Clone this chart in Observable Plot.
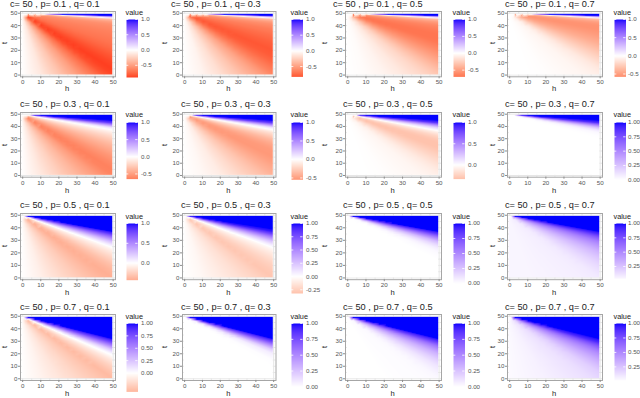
<!DOCTYPE html>
<html><head><meta charset="utf-8">
<script src="https://cdn.jsdelivr.net/npm/d3@7"></script>
<script src="https://cdn.jsdelivr.net/npm/@observablehq/plot@0.6"></script>
<style>
body{margin:0;background:#fff;}
#root{position:relative;width:640px;height:398px;overflow:hidden;background:#fff;font-family:"Liberation Sans",Arial,sans-serif;}
.abs{position:absolute;white-space:nowrap;line-height:1;}
svg{overflow:visible;}
</style></head><body><div id="root"></div>
<script>
// ---------- data ----------
const cValue = 50;
const pValues = [0.1, 0.3, 0.5, 0.7];
const qValues = [0.1, 0.3, 0.5, 0.7];
const xTicks = [0, 10, 20, 30, 40, 50];
const yTicks = [0, 10, 20, 30, 40, 50];
// anchors where value profiles were read: right edge (h = 50) at these t, then bottom edge (t = 0) at these h
const rightEdgeT = [49.5, 48, 47, 46, 45, 43, 41, 39, 37, 35, 32, 29, 26, 23, 20, 15, 10, 5, 0.5];
const bottomEdgeH = [45, 40, 30, 20, 10, -0.5];

const v_p1_q1 = [1, 1, 0.35, -0.1, -0.35, -0.5, -0.57, -0.6, -0.62, -0.64, -0.66, -0.68, -0.7, -0.73, -0.76, -0.82, -0.87, -0.9, -0.88, -0.83, -0.72, -0.5, -0.3, -0.12, 0];
const v_p1_q3 = [1, 1, 0.3, -0.1, -0.35, -0.5, -0.58, -0.62, -0.66, -0.68, -0.72, -0.75, -0.78, -0.8, -0.82, -0.8, -0.75, -0.68, -0.62, -0.54, -0.46, -0.31, -0.17, -0.06, 0];
const v_p1_q5 = [1, 1, 0.3, -0.1, -0.35, -0.5, -0.58, -0.63, -0.66, -0.68, -0.7, -0.7, -0.68, -0.64, -0.6, -0.52, -0.44, -0.36, -0.3, -0.25, -0.2, -0.12, -0.06, -0.02, 0];
const v_p1_q7 = [1, 1, 0.3, -0.1, -0.35, -0.48, -0.54, -0.56, -0.56, -0.54, -0.51, -0.47, -0.43, -0.38, -0.33, -0.25, -0.18, -0.12, -0.09, -0.07, -0.05, -0.03, -0.01, 0, 0];
const v_p3_q1 = [1, 1, 1, 1, 1, 0.85, 0.45, 0.12, -0.02, -0.1, -0.2, -0.28, -0.35, -0.41, -0.46, -0.54, -0.6, -0.64, -0.63, -0.58, -0.51, -0.38, -0.25, -0.12, 0];
const v_p3_q3 = [1, 1, 1, 1, 1, 0.85, 0.45, 0.12, -0.03, -0.15, -0.27, -0.37, -0.44, -0.49, -0.52, -0.53, -0.49, -0.44, -0.4, -0.35, -0.3, -0.2, -0.1, -0.04, 0];
const v_p3_q5 = [1, 1, 1, 1, 1, 0.88, 0.5, 0.2, 0.03, -0.1, -0.22, -0.29, -0.32, -0.32, -0.29, -0.23, -0.17, -0.12, -0.09, -0.07, -0.05, -0.03, -0.01, 0, 0];
const v_p3_q7 = [1, 1, 1, 1, 1, 0.9, 0.55, 0.27, 0.1, 0.03, 0.005, 0, 0, 0, 0, 0, 0, 0, 0, 0, 0, 0, 0, 0, 0];
const v_p5_q1 = [1, 1, 1, 1, 1, 1, 1, 1, 1, 0.85, 0.55, 0.28, 0.08, -0.05, -0.13, -0.24, -0.33, -0.39, -0.42, -0.4, -0.36, -0.27, -0.18, -0.08, 0];
const v_p5_q3 = [1, 1, 1, 1, 1, 1, 1, 1, 0.95, 0.8, 0.5, 0.25, 0.07, -0.04, -0.1, -0.18, -0.24, -0.28, -0.3, -0.27, -0.23, -0.16, -0.1, -0.04, 0];
const v_p5_q5 = [1, 1, 1, 1, 1, 1, 1, 1, 1, 0.85, 0.55, 0.3, 0.15, 0.06, 0.02, 0, 0, 0, 0, 0, 0, 0, 0, 0, 0];
const v_p5_q7 = [1, 1, 1, 1, 1, 1, 1, 1, 1, 0.9, 0.7, 0.55, 0.45, 0.37, 0.3, 0.22, 0.16, 0.12, 0.09, 0.08, 0.07, 0.06, 0.05, 0.04, 0.04];
const v_p7_q1 = [1, 1, 1, 1, 1, 1, 1, 1, 1, 1, 1, 0.78, 0.5, 0.22, 0.04, -0.12, -0.23, -0.31, -0.36, -0.33, -0.29, -0.21, -0.13, -0.06, 0];
const v_p7_q3 = [1, 1, 1, 1, 1, 1, 1, 1, 1, 1, 1, 0.75, 0.45, 0.2, 0.07, 0.01, 0, 0, 0, 0, 0, 0, 0, 0, 0];
const v_p7_q5 = [1, 1, 1, 1, 1, 1, 1, 1, 1, 1, 1, 0.82, 0.6, 0.45, 0.33, 0.2, 0.11, 0.06, 0.03, 0.02, 0.015, 0.01, 0, 0, 0];
const v_p7_q7 = [1, 1, 1, 1, 1, 1, 1, 1, 1, 1, 1, 0.9, 0.72, 0.58, 0.48, 0.36, 0.27, 0.2, 0.17, 0.14, 0.12, 0.09, 0.06, 0.04, 0.02];

// h where the top blue band begins (near the apex the field fades to white)
const bandStartH = [11, 12, 10, 11, 4, 4, 5, 3, 1.5, 1.5, 1.5, 1.5, 1, 1, 1, 1];
// legend (colour bar) limits and labels
const legendMin = [-0.9, -0.83, -0.7, -0.58, -0.65, -0.55, -0.33, 0, -0.43, -0.32, 0, 0.04, -0.38, 0, 0, 0.02];
const legendMax = [1, 1, 1, 1, 1, 1, 1, 1, 1, 1, 1, 1, 1, 1, 1, 1];
const labsA = ["1.0", "0.5", "0.0", "-0.5"];
const labsB = ["1.0", "0.5", "0.0"];
const labsC = ["1.00", "0.75", "0.50", "0.25", "0.00"];
const labsD = ["1.00", "0.75", "0.50", "0.25", "0.00", "-0.25"];
const labsE = ["1.00", "0.75", "0.50", "0.25"];
const legendLabels = [labsA, labsA, labsA, labsA, labsA, labsA, labsB, labsC, labsB, labsD, labsC, labsE, labsC, labsC, labsC, labsE];

const panelValues = [v_p1_q1, v_p1_q3, v_p1_q5, v_p1_q7, v_p3_q1, v_p3_q3, v_p3_q5, v_p3_q7,
  v_p5_q1, v_p5_q3, v_p5_q5, v_p5_q7, v_p7_q1, v_p7_q3, v_p7_q5, v_p7_q7];

// ---------- layout ----------
const PL = [19.5, 181.5, 344.5, 506.5], PR = [114.5, 275, 440.5, 601.5];
const PT = [10.5, 112.3, 213.3, 314], PB = [75.8, 177, 279.5, 380];
const titleX = [[10, 171, 333, 505], [20, 181, 343, 505], [20, 181, 343, 505], [20, 181, 343, 505]];
const titleY = [4.3, 105, 206, 307.5];
const tLabX = [5, 165, 325, 493];
const barLeft = [125.5, 290.5, 452.5, 613.5], barW = 11.5;
const labPad = [3, 3, 3, 2];
const barTop = [19.3, 121.7, 223.3, 323.3];
const barBottom = [77.3, 76.7, 76.7, 76.7, 178.3, 179, 178.3, 179, 280, 293.3, 283.3, 278.3, 391.7, 386.7, 386.7, 380];
const H0 = -0.5, H1 = 49.5, T0 = 0.5, T1 = 49.5;

const root = document.getElementById("root");
function addText(txt, x, y, size, color, extra = "") {
  const d = document.createElement("div");
  d.className = "abs";
  d.textContent = txt;
  d.style.cssText = `left:${x}px;top:${y}px;font-size:${size}px;color:${color};${extra}`;
  root.appendChild(d);
  return d;
}
function place(node, x, y) {
  node.style.position = "absolute";
  node.style.left = x + "px";
  node.style.top = y + "px";
  root.appendChild(node);
}
const ryb = d3.piecewise(d3.interpolateLab, ["#ff0000", "#ffffff", "#0000ff"]);
const colorOf = (i) => ({type: "diverging", domain: [legendMin[i], legendMax[i]], pivot: 0, symmetric: true, interpolate: ryb});

function samples(vals, hw) {
  const pts = [];
  const ends = [...rightEdgeT.map((t) => [H1, t]), ...bottomEdgeH.map((h) => [h, T0])];
  ends.forEach(([eh, et], k) => {
    const v = vals[k];
    const hs = v >= 0.3 ? hw : -Infinity;
    for (let j = 1; j <= 14; j++) {
      const f = j / 14;
      const h = H0 + f * (eh - H0);
      const t = 50 + f * (et - 50);
      if (h < hs && j < 14) continue;
      pts.push({h, t, v});
    }
  });
  for (let h = H0; h < hw; h += 1) pts.push({h, t: 50, v: 0}, {h, t: T1 - 0.3, v: 0});
  return pts;
}

const ML = 14, MR = 2, MT = 2, MB = 10;
pValues.forEach((p, r) => {
  qValues.forEach((q, c) => {
    const i = r * 4 + c;
    const w = PR[c] - PL[c], h = PB[r] - PT[r];
    const pts = samples(panelValues[i], bandStartH[i]);
    const chart = Plot.plot({
      width: w + ML + MR, height: h + MT + MB,
      marginLeft: ML, marginRight: MR, marginTop: MT, marginBottom: MB,
      style: {background: "transparent", fontFamily: "Liberation Sans, Arial, sans-serif", overflow: "visible"},
      x: {domain: [-1.2, 51.3]},
      y: {domain: [-1.4, 51.4]},
      color: colorOf(i),
      marks: [
        Plot.gridX(d3.range(0, 51, 5), {stroke: "#e6e6e6", strokeOpacity: 1}),
        Plot.gridY(d3.range(0, 51, 5), {stroke: "#e6e6e6", strokeOpacity: 1}),
        Plot.raster(pts, {x: "h", y: "t", fill: "v", interpolate: "barycentric", x1: H0, x2: H1, y1: T0, y2: T1}),
        Plot.frame({stroke: "#a6a6a6", strokeWidth: 1}),
        Plot.axisX(xTicks, {tickSize: 2, tickPadding: 1, fontSize: 6.2, stroke: "#8c8c8c", fill: "#555", label: null}),
        Plot.axisY(yTicks, {tickSize: 2, tickPadding: 1, fontSize: 6.2, stroke: "#8c8c8c", fill: "#555", label: null})
      ]
    });
    place(chart, PL[c] - ML, PT[r] - MT);

    // legend colour bar
    const lo = legendMin[i], hi = legendMax[i];
    const labs = legendLabels[i];
    const vals = labs.map(Number);
    const barLen = barBottom[i] - barTop[r];
    const leg = Plot.plot({
      width: barW + 24, height: barLen + 6,
      marginLeft: 0, marginRight: 24, marginTop: 3, marginBottom: 3,
      style: {background: "transparent", fontFamily: "Liberation Sans, Arial, sans-serif", overflow: "visible"},
      x: {domain: [0, 1], axis: null},
      y: {domain: [lo, hi], axis: null},
      color: colorOf(i),
      marks: [
        Plot.raster({fill: (x, y) => y, x1: 0, x2: 1, y1: lo, y2: hi}),
        Plot.ruleY(vals, {x1: 0, x2: 0.2, stroke: "white", strokeWidth: 0.8}),
        Plot.ruleY(vals, {x1: 0.8, x2: 1, stroke: "white", strokeWidth: 0.8}),
        Plot.axisY(vals, {anchor: "right", tickSize: 0, tickPadding: labPad[c], fontSize: 6.2, fill: "#555", label: null, tickFormat: (d) => labs[vals.indexOf(d)]})
      ]
    });
    place(leg, barLeft[c], barTop[r] - 3);
    addText("value", barLeft[c], barTop[r] - 10.3, 7.3, "#222");

    // titles
    addText(`c= ${cValue} , p= ${p} , q= ${q}`, titleX[r][c], titleY[r] - 4.6, 9.2, "#222");
    addText("h", (PL[c] + PR[c]) / 2, PB[r] + 13.5, 7.6, "#222", "transform:translate(-50%,-50%);");
    addText("t", tLabX[c], (PT[r] + PB[r]) / 2, 7.6, "#222", "transform:translate(-50%,-50%) rotate(-90deg);");
  });
});
</script>
</body></html>
